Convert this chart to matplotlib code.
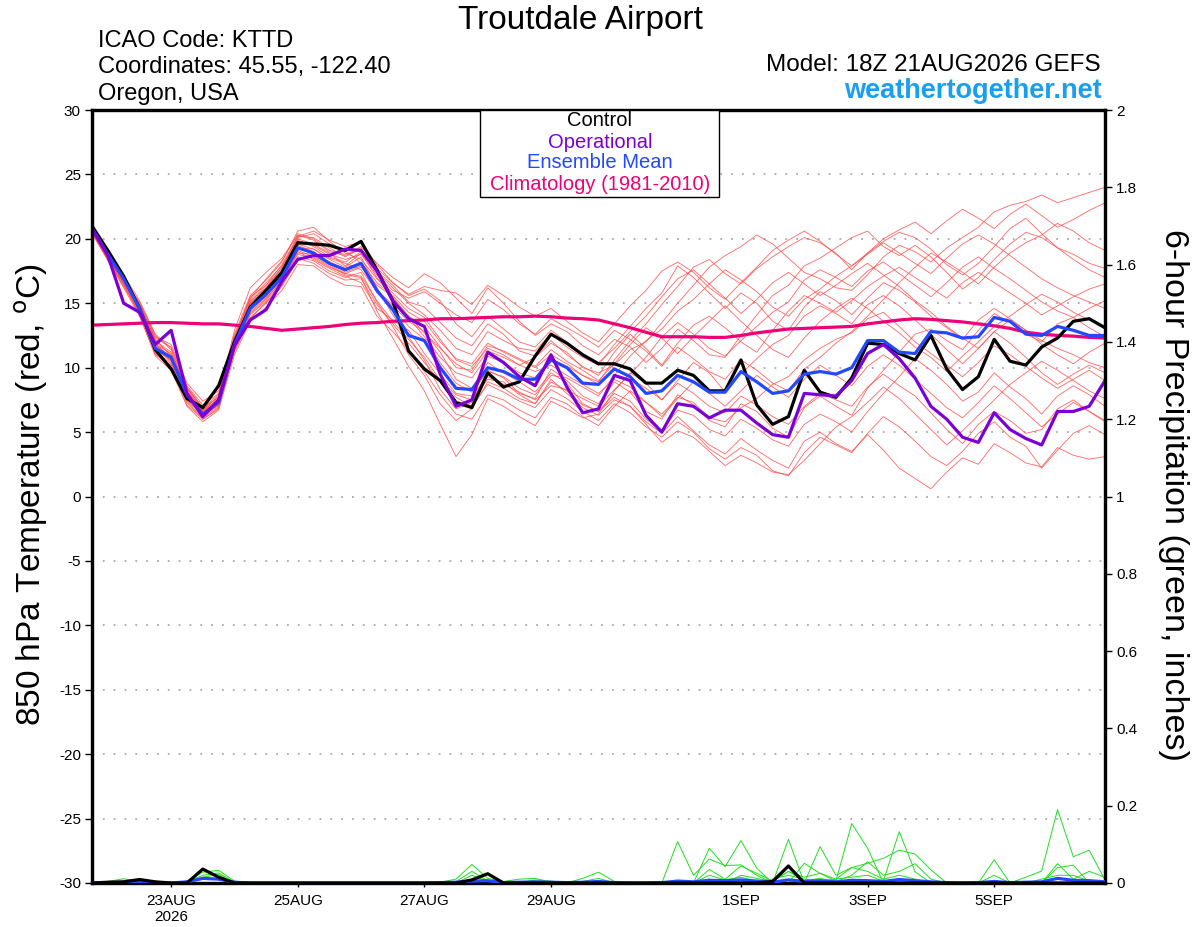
import matplotlib
matplotlib.use("Agg")
import matplotlib.pyplot as plt
from matplotlib.patches import Rectangle
import pandas as pd

plt.rcParams['font.family'] = ['Liberation Sans', 'DejaVu Sans']
plt.rcParams['axes.unicode_minus'] = False

# 6-hourly forecast times, GEFS 18Z 21AUG2026 run
times = pd.date_range('2026-08-21 18:00', periods=65, freq='6h')

tick_dates = ['2026-08-23', '2026-08-25', '2026-08-27', '2026-08-29',
              '2026-09-01', '2026-09-03', '2026-09-05']
tick_labels = ['23AUG\n2026', '25AUG', '27AUG', '29AUG', '1SEP', '3SEP', '5SEP']

# 850 hPa temperature (C)
control = [21.0, 19.1, 17.1, 14.6, 11.4, 9.9, 7.6, 6.9, 8.6, 12.0, 14.7, 16.0, 17.4, 19.7, 19.6, 19.5,
           19.1, 19.8, 17.6, 15.2, 11.3, 9.9, 9.0, 7.3, 6.9, 9.6, 8.5, 8.9, 10.9, 12.6, 11.9, 11.0,
           10.3, 10.3, 9.9, 8.8, 8.8, 9.8, 9.4, 8.2, 8.2, 10.6, 7.1, 5.6, 6.2, 9.8, 8.1, 7.7,
           9.2, 11.9, 11.8, 11.1, 10.6, 12.5, 9.9, 8.3, 9.3, 12.2, 10.5, 10.2, 11.6, 12.3, 13.6, 13.8, 13.1]

operational = [20.8, 18.7, 15.0, 14.3, 11.8, 12.9, 8.0, 6.2, 7.5, 11.7, 13.7, 14.5, 16.7, 18.4, 18.7, 18.7,
               19.2, 19.1, 17.5, 15.2, 13.8, 13.2, 9.5, 7.0, 7.5, 11.2, 10.4, 9.3, 8.6, 11.0, 8.5, 6.5,
               6.8, 9.4, 9.0, 6.3, 5.0, 7.2, 7.0, 6.1, 6.7, 6.7, 5.7, 4.8, 4.6, 8.0, 7.9, 7.8,
               9.0, 11.1, 11.8, 10.7, 9.2, 7.0, 6.0, 4.6, 4.2, 6.5, 5.2, 4.5, 4.0, 6.6, 6.6, 7.0, 9.0]

ens_mean = [20.8, 18.8, 16.9, 14.6, 11.5, 10.8, 7.9, 6.4, 7.3, 11.8, 14.6, 15.7, 17.0, 19.3, 18.9, 18.1,
            17.6, 18.1, 16.0, 14.5, 12.5, 12.1, 10.0, 8.4, 8.3, 10.0, 9.7, 9.1, 9.1, 10.6, 10.0, 8.8,
            8.7, 9.9, 9.3, 8.0, 8.2, 9.4, 8.9, 8.1, 8.1, 9.7, 8.9, 8.0, 8.2, 9.5, 9.7, 9.5,
            10.0, 12.1, 12.1, 11.2, 11.1, 12.8, 12.7, 12.3, 12.4, 13.9, 13.6, 12.6, 12.5, 13.2, 12.9, 12.5, 12.5]

climatology = [13.3, 13.35, 13.4, 13.45, 13.5, 13.5, 13.45, 13.4, 13.4, 13.3, 13.2, 13.05, 12.9, 13.0, 13.1, 13.2,
               13.35, 13.45, 13.5, 13.6, 13.65, 13.7, 13.8, 13.8, 13.85, 13.9, 13.95, 13.95, 14.0, 13.95, 13.85, 13.8,
               13.7, 13.4, 13.1, 12.75, 12.4, 12.4, 12.4, 12.35, 12.35, 12.5, 12.7, 12.85, 13.0, 13.05, 13.1, 13.15,
               13.2, 13.4, 13.55, 13.7, 13.8, 13.75, 13.65, 13.55, 13.4, 13.25, 13.05, 12.75, 12.6, 12.5, 12.45, 12.35, 12.3]

ens_temp = [
    [20.7, 18.6, 16.6, 14.9, 12.2, 10.9, 8.2, 6.7, 7.8, 12.6, 15.6, 16.8, 18.2, 20.6, 20.9, 19.8,
     18.9, 18.4, 16.9, 15.8, 14.6, 13.9, 12.2, 10.6, 10.1, 11.5, 11.0, 10.2, 10.8, 11.9, 11.2, 10.0,
     9.6, 10.2, 11.4, 12.0, 13.5, 15.0, 16.4, 17.8, 18.7, 19.4, 20.3, 19.6, 18.5, 17.4, 16.9, 16.2,
     16.0, 17.2, 18.6, 19.5, 19.0, 18.2, 19.3, 20.1, 20.9, 22.1, 22.6, 22.9, 23.4, 22.8, 23.2, 23.6, 24.0],
    [20.5, 18.3, 16.2, 14.0, 11.0, 10.2, 7.4, 6.1, 7.0, 11.2, 13.8, 15.1, 16.4, 18.6, 18.3, 17.5,
     17.0, 17.4, 15.1, 13.2, 11.0, 9.4, 7.2, 5.9, 6.8, 8.9, 8.4, 7.6, 7.2, 9.1, 8.0, 6.9,
     6.3, 7.5, 7.0, 5.8, 4.9, 6.2, 5.1, 4.0, 3.3, 4.5, 3.6, 2.8, 2.2, 4.3, 5.0, 4.1,
     3.5, 4.8, 3.6, 2.2, 1.4, 0.6, 1.9, 3.0, 2.5, 4.1, 3.4, 2.6, 2.3, 3.8, 3.2, 2.9, 3.1],
    [20.9, 19.0, 17.2, 15.2, 12.6, 11.5, 8.5, 6.9, 7.9, 12.9, 16.2, 17.4, 18.5, 20.3, 19.9, 19.0,
     18.7, 19.4, 18.1, 17.0, 16.2, 17.3, 16.6, 15.4, 14.2, 16.2, 15.0, 13.6, 12.5, 13.4, 12.8, 11.7,
     11.0, 12.2, 11.6, 10.4, 11.5, 13.0, 12.1, 11.0, 10.8, 12.5, 14.1, 15.6, 16.4, 17.9, 18.5, 19.3,
     20.1, 20.6, 19.4, 18.7, 19.5, 18.6, 17.4, 16.1, 17.0, 18.4, 19.6, 20.5, 20.1, 19.3, 18.4, 17.6, 17.0],
    [20.6, 18.9, 17.0, 14.4, 11.1, 10.0, 7.1, 6.0, 6.8, 11.9, 14.9, 15.9, 17.2, 19.6, 19.2, 18.4,
     17.8, 18.6, 16.2, 14.1, 12.4, 10.6, 8.3, 6.8, 7.3, 9.8, 9.2, 8.0, 7.6, 9.9, 9.0, 7.8,
     7.2, 8.9, 8.1, 6.6, 6.0, 7.9, 7.1, 5.9, 5.4, 7.2, 6.6, 5.3, 4.6, 6.9, 7.8, 7.0,
     6.3, 8.4, 9.8, 11.2, 12.6, 13.0, 12.1, 11.4, 12.9, 14.2, 13.5, 12.6, 12.0, 13.4, 13.9, 13.1, 12.4],
    [20.8, 18.7, 16.8, 15.0, 12.4, 11.8, 8.8, 7.4, 8.2, 12.4, 15.3, 16.6, 17.9, 19.9, 19.4, 18.6,
     18.2, 19.0, 17.4, 16.2, 15.0, 14.1, 12.9, 11.5, 11.0, 12.8, 12.1, 11.5, 11.3, 12.6, 11.6, 10.8,
     10.2, 11.8, 13.2, 14.6, 15.8, 17.9, 17.0, 15.8, 14.6, 15.8, 15.0, 13.6, 12.9, 14.7, 15.9, 15.2,
     14.1, 15.4, 16.6, 16.0, 15.1, 14.0, 13.1, 12.2, 13.7, 14.6, 13.8, 12.9, 12.1, 11.5, 11.0, 10.4, 10.0],
    [20.4, 18.4, 16.4, 14.3, 11.6, 10.4, 7.6, 6.2, 7.1, 11.4, 14.2, 15.3, 16.8, 18.9, 18.8, 18.2,
     17.4, 17.9, 15.8, 14.8, 13.6, 12.8, 11.2, 9.1, 8.4, 10.4, 9.6, 8.9, 8.1, 9.6, 8.8, 7.2,
     6.6, 8.0, 7.4, 6.0, 5.1, 6.7, 6.3, 5.2, 4.7, 6.0, 5.3, 4.4, 3.9, 5.6, 6.4, 5.8,
     5.0, 6.6, 8.0, 9.3, 10.7, 9.8, 8.7, 7.4, 8.1, 9.6, 8.5, 7.6, 6.4, 7.8, 8.6, 7.9, 7.0],
    [20.9, 18.9, 16.9, 14.7, 11.8, 11.1, 8.3, 6.7, 7.5, 12.1, 15.2, 16.2, 17.6, 20.0, 19.6, 18.9,
     17.9, 18.9, 17.0, 15.4, 13.9, 12.4, 10.8, 9.6, 9.2, 10.9, 10.4, 9.6, 9.2, 10.7, 10.1, 9.4,
     8.9, 10.6, 12.1, 13.4, 14.9, 16.3, 17.8, 18.4, 17.3, 16.5, 17.7, 18.6, 19.4, 20.1, 19.7, 18.9,
     17.6, 18.9, 19.8, 20.5, 20.1, 19.2, 18.0, 17.2, 18.1, 19.4, 20.8, 21.6, 20.4, 19.3, 18.8, 18.1, 17.7],
    [20.6, 18.6, 16.7, 14.5, 11.3, 10.3, 7.5, 6.3, 7.2, 11.6, 14.5, 15.5, 16.9, 19.1, 18.6, 17.9,
     17.2, 17.0, 14.4, 12.3, 10.1, 8.2, 5.6, 3.1, 4.8, 7.6, 7.0, 6.2, 5.5, 7.4, 6.8, 6.1,
     6.4, 8.2, 9.6, 8.8, 7.5, 9.0, 10.4, 9.6, 8.1, 9.5, 10.7, 11.8, 12.5, 14.0, 14.8, 14.2,
     13.4, 14.9, 15.6, 14.8, 13.7, 12.6, 11.4, 10.3, 11.5, 12.8, 11.9, 10.8, 9.6, 8.7, 9.5, 10.2, 9.6],
    [20.7, 18.8, 16.9, 14.9, 11.9, 10.7, 7.8, 6.5, 7.4, 11.8, 14.7, 15.8, 17.3, 19.5, 19.0, 18.1,
     17.7, 18.2, 16.6, 15.6, 14.3, 13.6, 12.0, 10.7, 10.3, 11.9, 11.2, 10.6, 10.0, 11.0, 10.3, 9.4,
     8.7, 9.9, 9.2, 8.4, 7.5, 8.8, 8.0, 7.0, 6.5, 7.8, 7.1, 6.2, 5.6, 7.0, 8.0, 7.5,
     7.0, 8.5, 9.5, 8.6, 7.8, 6.5, 5.2, 4.1, 5.6, 6.6, 5.9, 4.9, 5.2, 6.8, 7.5, 6.6, 5.9],
    [20.8, 18.7, 16.8, 14.6, 11.4, 10.6, 7.7, 6.4, 7.3, 11.9, 14.8, 16.0, 17.1, 19.3, 19.2, 18.5,
     18.1, 17.6, 15.9, 14.6, 13.2, 12.2, 10.4, 8.8, 8.1, 9.7, 9.3, 8.4, 7.9, 9.4, 9.2, 8.5,
     7.8, 9.4, 10.9, 12.1, 13.0, 14.4, 15.3, 16.5, 17.6, 16.8, 15.9, 14.7, 14.0, 15.3, 16.1, 17.1,
     17.9, 18.8, 19.7, 18.9, 18.1, 17.3, 18.5, 19.6, 20.3, 19.6, 18.7, 17.8, 16.9, 16.2, 15.6, 15.1, 14.6],
    [20.5, 18.4, 16.3, 14.2, 11.7, 10.9, 8.0, 6.6, 7.6, 11.5, 13.9, 15.0, 16.3, 18.4, 18.7, 18.0,
     17.3, 17.8, 16.4, 15.5, 14.0, 12.7, 11.5, 10.3, 9.6, 11.3, 10.8, 10.2, 9.7, 10.2, 9.4, 8.7,
     8.0, 9.1, 8.5, 7.3, 6.4, 7.7, 7.3, 6.1, 5.8, 6.9, 7.6, 8.7, 9.3, 10.6, 11.5, 12.2,
     12.7, 13.8, 14.3, 13.2, 12.0, 11.1, 10.2, 9.3, 10.4, 11.7, 11.0, 10.1, 9.2, 8.4, 9.1, 9.8, 9.0],
    [20.9, 19.1, 17.1, 15.0, 12.1, 11.2, 8.4, 6.8, 7.7, 12.3, 15.5, 16.4, 18.0, 20.2, 20.1, 19.3,
     18.6, 19.3, 17.5, 16.4, 15.1, 14.7, 13.5, 12.3, 11.7, 13.4, 12.6, 11.3, 10.9, 12.1, 11.0, 10.1,
     9.4, 11.2, 12.6, 11.5, 10.2, 11.9, 13.3, 14.0, 13.1, 12.0, 11.2, 12.9, 14.4, 15.6, 15.0, 14.3,
     15.2, 16.3, 17.1, 17.8, 17.0, 16.2, 15.4, 16.6, 17.4, 16.6, 15.8, 15.0, 14.1, 14.8, 15.5, 16.1, 16.5],
    [20.6, 18.5, 16.6, 14.3, 11.2, 10.1, 7.3, 6.0, 6.9, 11.3, 14.1, 15.2, 16.6, 18.5, 18.1, 17.3,
     16.8, 16.9, 14.9, 13.4, 11.9, 10.4, 8.9, 7.7, 7.0, 8.7, 8.1, 7.4, 6.9, 8.3, 7.6, 6.6,
     5.9, 7.2, 6.5, 5.4, 4.6, 5.8, 5.0, 3.7, 2.9, 3.8, 3.2, 2.0, 1.6, 3.4, 4.6, 4.0,
     3.4, 4.9, 6.2, 5.4, 4.3, 3.1, 2.4, 3.5, 4.9, 5.8, 4.6, 3.9, 2.2, 3.6, 4.9, 5.5, 4.8],
    [20.8, 18.9, 17.0, 14.8, 12.3, 11.6, 8.6, 7.1, 8.0, 12.2, 15.0, 16.1, 17.5, 19.8, 19.5, 18.8,
     18.4, 18.8, 17.2, 16.0, 15.4, 15.9, 15.0, 14.1, 13.5, 15.3, 14.5, 13.4, 12.6, 13.8, 13.1, 12.4,
     11.6, 12.9, 12.2, 11.3, 10.1, 11.6, 10.7, 9.7, 9.1, 10.6, 9.8, 8.8, 8.2, 9.9, 10.8, 11.9,
     12.8, 14.0, 15.3, 16.6, 17.8, 18.9, 18.2, 17.4, 16.5, 17.8, 18.9, 19.7, 20.3, 21.2, 20.6, 19.7, 19.1],
    [20.7, 18.6, 16.5, 14.1, 10.9, 9.8, 7.0, 5.8, 6.7, 11.0, 13.6, 14.7, 16.0, 18.0, 17.9, 17.0,
     16.4, 16.3, 14.0, 12.8, 11.4, 9.7, 7.9, 6.4, 6.0, 7.9, 7.5, 6.7, 6.1, 7.7, 7.2, 6.2,
     5.5, 7.0, 8.2, 7.3, 6.2, 7.6, 8.9, 8.0, 7.0, 8.2, 9.4, 8.5, 7.7, 9.1, 10.2, 9.4,
     8.6, 10.1, 11.0, 10.2, 9.1, 8.0, 6.9, 6.1, 7.3, 8.6, 7.6, 6.5, 5.4, 6.4, 7.3, 6.6, 5.8],
    [20.9, 18.8, 16.7, 15.1, 12.5, 11.4, 8.1, 6.6, 7.4, 12.0, 15.1, 16.4, 17.7, 20.1, 20.4, 19.6,
     19.1, 18.1, 16.0, 14.9, 14.0, 13.2, 11.6, 10.0, 9.8, 11.7, 11.3, 10.7, 10.1, 11.4, 10.5, 9.8,
     9.0, 10.3, 11.8, 13.1, 12.3, 11.1, 12.4, 13.6, 14.8, 13.6, 12.5, 11.4, 10.8, 12.3, 13.6, 14.6,
     15.4, 14.6, 13.6, 12.7, 11.6, 10.8, 9.7, 10.9, 12.0, 13.2, 14.0, 14.9, 15.7, 15.1, 14.3, 13.7, 13.0],
    [20.6, 18.7, 16.8, 14.5, 11.6, 10.5, 7.8, 6.3, 7.1, 11.7, 14.4, 15.6, 17.0, 19.0, 18.4, 17.7,
     17.1, 16.6, 14.6, 13.7, 12.9, 11.1, 9.5, 8.0, 7.8, 9.3, 8.7, 8.1, 7.5, 8.6, 8.3, 7.6,
     7.0, 8.3, 9.5, 10.8, 12.4, 13.5, 12.6, 11.5, 10.9, 12.1, 13.2, 14.3, 15.1, 16.8, 17.6, 17.0,
     16.3, 17.5, 18.2, 17.3, 16.4, 15.5, 16.6, 17.8, 18.6, 17.7, 16.9, 16.0, 15.1, 14.4, 13.9, 14.6, 15.2],
    [20.8, 18.6, 16.9, 14.8, 11.5, 10.8, 8.0, 6.5, 7.6, 12.4, 15.4, 16.9, 18.3, 20.4, 20.0, 19.1,
     18.8, 19.1, 17.7, 16.6, 15.6, 16.1, 15.2, 13.4, 12.4, 14.0, 13.0, 12.0, 11.6, 12.9, 12.0, 11.1,
     10.4, 11.5, 12.8, 14.0, 15.5, 16.9, 17.6, 16.5, 15.4, 14.2, 15.3, 16.6, 17.4, 16.5, 15.6, 16.4,
     17.3, 18.1, 17.2, 16.3, 15.2, 14.3, 13.2, 12.3, 11.5, 12.8, 13.7, 12.9, 11.8, 11.0, 10.3, 11.2, 11.9],
    [20.5, 18.5, 16.5, 14.6, 11.8, 10.6, 7.9, 6.4, 7.2, 11.6, 14.3, 15.4, 16.7, 18.8, 18.5, 17.8,
     17.3, 17.1, 15.2, 13.6, 12.2, 10.8, 9.0, 7.9, 7.5, 9.1, 8.9, 7.9, 7.2, 8.9, 8.2, 7.1,
     6.6, 7.7, 7.0, 5.6, 4.2, 5.1, 4.6, 3.5, 2.4, 3.2, 2.6, 1.9, 1.7, 2.8, 4.1, 5.4,
     6.2, 7.3, 8.5, 7.6, 6.4, 5.2, 4.0, 5.1, 6.3, 7.5, 8.7, 9.6, 10.5, 9.8, 9.0, 8.2, 7.6],
    [20.7, 18.8, 16.9, 14.7, 12.0, 11.0, 8.4, 6.9, 7.7, 12.2, 15.0, 16.2, 17.8, 20.2, 20.6, 19.9,
     19.4, 19.8, 18.0, 16.6, 15.7, 16.3, 16.0, 15.8, 14.9, 16.4, 15.6, 14.7, 14.0, 14.6, 13.6, 12.7,
     12.0, 13.4, 14.8, 16.0, 17.5, 18.2, 17.4, 16.2, 15.3, 16.6, 17.8, 19.1, 19.9, 20.6, 19.8, 18.8,
     17.9, 18.9, 20.0, 20.7, 21.3, 20.4, 21.4, 22.3, 21.6, 20.8, 21.9, 22.7, 21.8, 20.9, 21.5, 22.2, 22.8],
]

# 6-hour precipitation (inches)
control_precip = [0, 0.002, 0.003, 0.009, 0.003, 0, 0, 0.036, 0.015, 0, 0, 0, 0, 0, 0, 0,
                  0, 0, 0, 0, 0, 0, 0, 0, 0.008, 0.024, 0, 0, 0, 0, 0, 0,
                  0, 0, 0, 0, 0, 0, 0, 0, 0, 0, 0, 0.004, 0.044, 0, 0, 0,
                  0, 0, 0, 0, 0, 0, 0, 0, 0, 0, 0, 0, 0, 0, 0, 0, 0]

mean_precip = [0, 0.001, 0.002, 0.002, 0.001, 0, 0.003, 0.012, 0.01, 0.002, 0, 0, 0, 0, 0, 0,
               0, 0, 0, 0, 0, 0, 0.001, 0.002, 0.005, 0.006, 0.001, 0.002, 0.003, 0.002, 0.001, 0.002,
               0.004, 0.001, 0, 0, 0.001, 0.005, 0.003, 0.007, 0.006, 0.008, 0.005, 0.002, 0.008, 0.004, 0.006, 0.003,
               0.007, 0.006, 0.004, 0.009, 0.006, 0.003, 0.001, 0, 0.001, 0.004, 0.001, 0.002, 0.003, 0.012, 0.007, 0.006, 0.003]

ens_precip = [
    [0, 0.004, 0.011, 0.004, 0, 0, 0.005, 0.028, 0.033, 0.005, 0, 0, 0, 0, 0, 0,
     0, 0, 0, 0, 0, 0, 0.002, 0.01, 0.048, 0.012, 0.004, 0.01, 0.012, 0.002, 0, 0.012,
     0.028, 0.004, 0, 0, 0, 0.107, 0.02, 0.062, 0.045, 0.047, 0.02, 0, 0, 0.051, 0.025, 0.005,
     0.154, 0.09, 0, 0, 0, 0, 0, 0, 0, 0.06, 0, 0, 0, 0, 0, 0, 0],
    [0, 0, 0.003, 0, 0, 0, 0.003, 0.02, 0.026, 0.002, 0, 0, 0, 0, 0, 0,
     0, 0, 0, 0, 0, 0, 0, 0.004, 0.03, 0.006, 0, 0, 0.008, 0.005, 0, 0.004,
     0.012, 0, 0, 0, 0, 0, 0, 0.09, 0.042, 0.11, 0.038, 0, 0.113, 0, 0.094, 0.02,
     0.04, 0.051, 0.064, 0.085, 0.075, 0.034, 0, 0, 0, 0, 0, 0.015, 0.031, 0.19, 0.068, 0.085, 0.008],
    [0, 0, 0, 0, 0, 0, 0, 0.015, 0.022, 0, 0, 0, 0, 0, 0, 0,
     0, 0, 0, 0, 0, 0, 0, 0, 0.02, 0.005, 0, 0, 0, 0, 0, 0,
     0, 0, 0, 0, 0, 0, 0, 0.035, 0.01, 0.044, 0.025, 0.005, 0.03, 0.015, 0.025, 0.01,
     0.015, 0.02, 0.005, 0.133, 0.029, 0, 0, 0, 0, 0, 0, 0, 0, 0.04, 0.046, 0, 0],
    [0, 0, 0, 0, 0, 0, 0, 0.01, 0.012, 0.003, 0, 0, 0, 0, 0, 0,
     0, 0, 0, 0, 0, 0, 0, 0, 0, 0, 0, 0, 0, 0, 0, 0,
     0, 0, 0, 0, 0, 0, 0, 0.02, 0.008, 0.015, 0.005, 0.01, 0.02, 0.01, 0.005, 0.01,
     0.04, 0.03, 0.01, 0.02, 0.01, 0, 0, 0, 0, 0, 0, 0, 0.01, 0.02, 0.02, 0.005, 0],
    [0, 0, 0, 0, 0, 0, 0, 0, 0, 0, 0, 0, 0, 0, 0, 0,
     0, 0, 0, 0, 0, 0, 0, 0, 0.006, 0.003, 0, 0, 0, 0, 0, 0,
     0, 0, 0, 0, 0, 0, 0, 0.01, 0, 0.02, 0.012, 0.004, 0.03, 0.006, 0.012, 0.004,
     0.02, 0.055, 0.02, 0.03, 0.05, 0.01, 0, 0, 0, 0.02, 0, 0.004, 0, 0.05, 0.01, 0.03, 0.015],
]

W, H = 1200, 927
fig = plt.figure(figsize=(W / 100, H / 100), dpi=100)
fig.patch.set_facecolor('white')
ax = fig.add_axes([92 / W, 1 - 883 / H, (1105 - 92) / W, (883 - 110) / H])

# ensemble members
for m in ens_temp:
    ax.plot(times, m, color='#ff4a4a', linewidth=0.6, alpha=0.85, zorder=2)

ax.plot(times, control, color='black', linewidth=2.3, zorder=4)
ax.plot(times, ens_mean, color='#2448ff', linewidth=2.3, zorder=5)
ax.plot(times, operational, color='#7a00d6', linewidth=2.3, zorder=6)
ax.plot(times, climatology, color='#ee0078', linewidth=2.3, zorder=3)

ax.set_ylim(-30, 30)
ax.set_yticks(range(-30, 31, 5))
ax.set_xlim(times[0], times[-1])
ax.set_xticks(pd.to_datetime(tick_dates))
ax.set_xticklabels(tick_labels, fontsize=11)
ax.tick_params(axis='y', direction='out', length=5, width=1, labelsize=11, pad=3)
ax.tick_params(axis='x', direction='out', length=3, width=1, pad=5)
for g in range(-25, 26, 5):
    ax.axhline(g, color='#aaaaaa', linestyle=(0, (1, 5)), linewidth=1.3, zorder=1)

for s in ax.spines.values():
    s.set_linewidth(2.3)

# precipitation on the right axis
ax2 = ax.twinx()
for p in ens_precip:
    ax2.plot(times, p, color='#22dd22', linewidth=0.7, zorder=2)
ax2.plot(times, mean_precip, color='#2448ff', linewidth=2.3, zorder=3)
ax2.plot(times, control_precip, color='black', linewidth=2.3, zorder=4)
ax2.set_ylim(0, 2)
ax2.set_yticks([i * 0.2 for i in range(11)])
ax2.set_yticklabels(['0', '0.2', '0.4', '0.6', '0.8', '1', '1.2', '1.4', '1.6', '1.8', '2'])
ax2.tick_params(axis='y', direction='out', length=5, width=1, labelsize=11, pad=3)
for s in ax2.spines.values():
    s.set_linewidth(2.3)

# axis titles
fig.text(31 / W, 1 - 495 / H, '850 hPa Temperature (red, $^{\\rm o}$C)', fontsize=24,
         rotation=90, ha='center', va='center')
fig.text(1174 / W, 1 - 495 / H, '6-hour Precipitation (green, inches)', fontsize=24.5,
         rotation=-90, ha='center', va='center')

# legend box
ax2.add_patch(Rectangle(((480 - 92) / 1013, (883 - 197) / 773), (719 - 480) / 1013, 87 / 773,
                        transform=ax2.transAxes, facecolor='white', edgecolor='black',
                        linewidth=1, zorder=10, clip_on=False))
leg_items = [('Control', 'black', 121), ('Operational', '#7a00d6', 142),
             ('Ensemble Mean', '#2448ff', 163), ('Climatology (1981-2010)', '#ee0078', 185)]
for txt, col, yy in leg_items:
    fig.text(600 / W, 1 - yy / H, txt, color=col, fontsize=14.5, ha='center', va='center', zorder=11)

# header
fig.text(580 / W, 1 - 20 / H, 'Troutdale Airport', fontsize=24, ha='center', va='center')
fig.text(98 / W, 1 - 41 / H, 'ICAO Code: KTTD', fontsize=17, ha='left', va='center')
fig.text(98 / W, 1 - 67 / H, 'Coordinates: 45.55, -122.40', fontsize=17, ha='left', va='center')
fig.text(98 / W, 1 - 94 / H, 'Oregon, USA', fontsize=17, ha='left', va='center')
fig.text(1101 / W, 1 - 65 / H, 'Model: 18Z 21AUG2026 GEFS', fontsize=17.5, ha='right', va='center')
fig.text(1102 / W, 1 - 91 / H, 'weathertogether.net', fontsize=19.5, fontweight='bold',
         color='#1a9ff0', ha='right', va='center')

fig.savefig('out.png', dpi=100)
